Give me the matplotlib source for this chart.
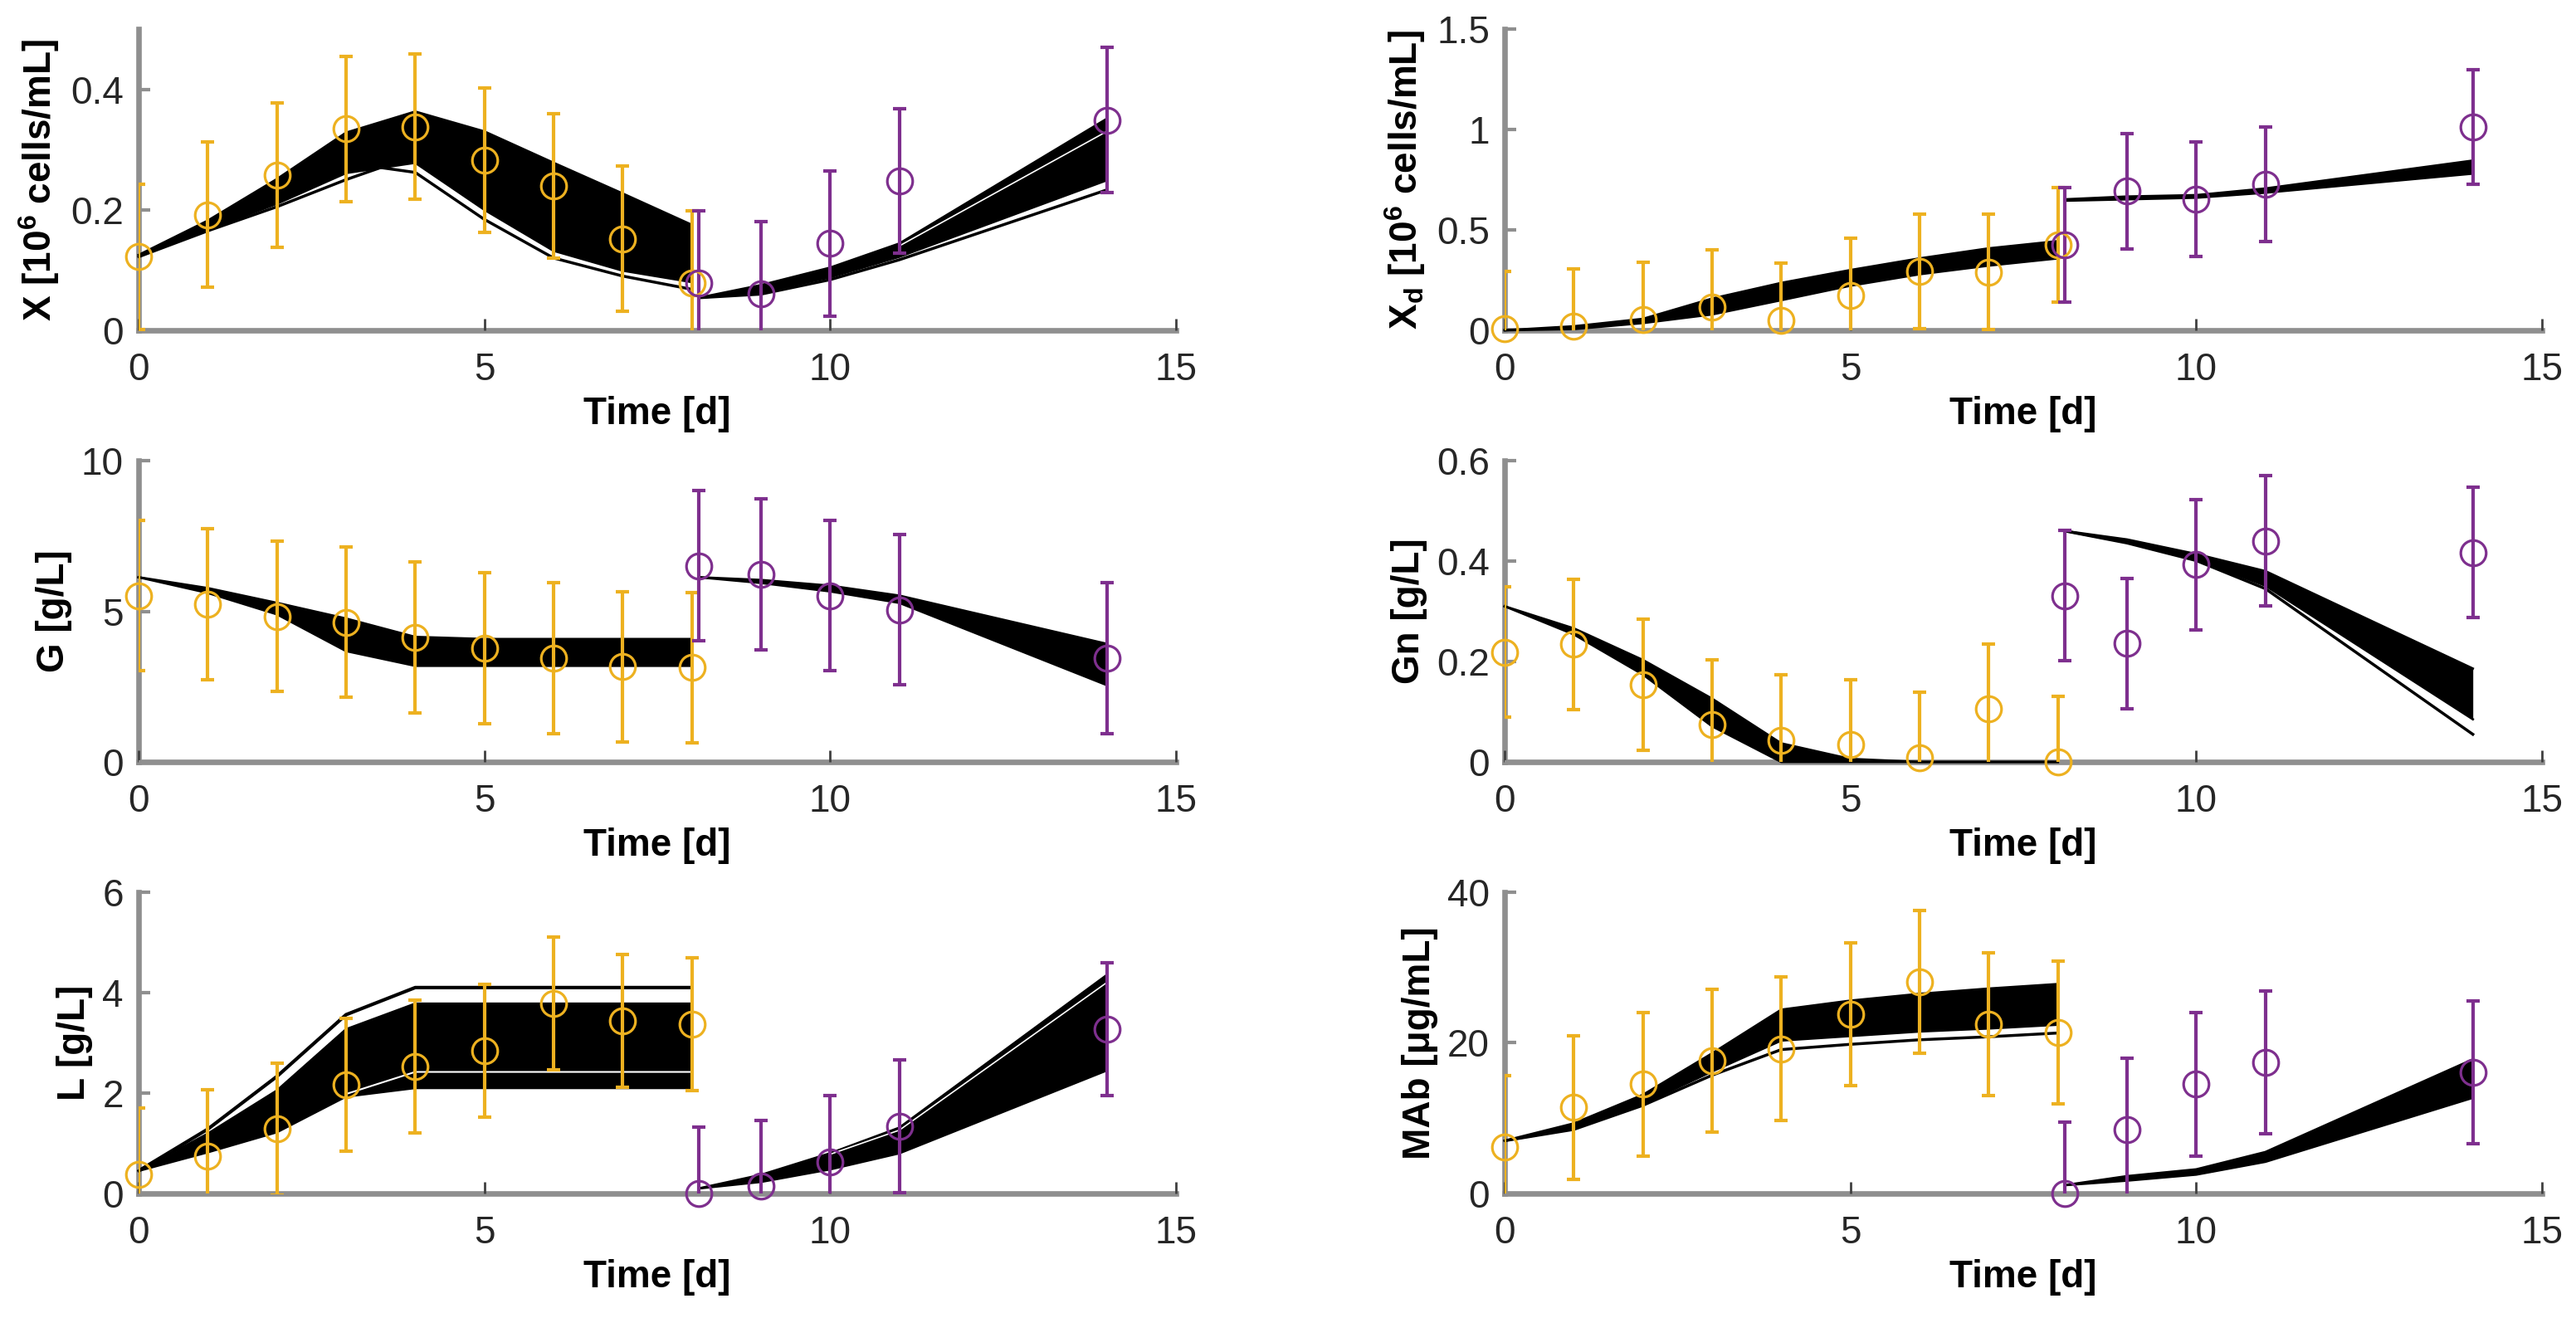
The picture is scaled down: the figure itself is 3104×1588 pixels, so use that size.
import matplotlib
matplotlib.use("Agg")
import matplotlib.pyplot as plt

plt.rcParams['font.family'] = ['Liberation Sans', 'DejaVu Sans']
plt.rcParams['mathtext.fontset'] = 'custom'
plt.rcParams['mathtext.rm'] = 'Liberation Sans'
plt.rcParams['mathtext.bf'] = 'Liberation Sans:bold'
plt.rcParams['mathtext.default'] = 'bf'

YELLOW = '#EDB120'
PURPLE = '#7E2F8E'
AXCOL = '#8f8f8f'
TXT = '#262626'
FS = 33

# measurement times
t_exp1 = [0, 1, 2, 3, 4, 5, 6, 7, 8]
t_exp2 = [8.1, 9, 10, 11, 14]

# ---- X [10^6 cells/mL]
x_mean1 = [0.122, 0.192, 0.257, 0.334, 0.338, 0.282, 0.24, 0.152, 0.078]
x_mean2 = [0.078, 0.061, 0.144, 0.248, 0.349]
x_err = 0.12
x_hi1 = [0.125, 0.182, 0.251, 0.328, 0.363, 0.33, 0.278, 0.227, 0.175]
x_lo1 = [0.122, 0.167, 0.21, 0.261, 0.278, 0.2, 0.132, 0.099, 0.08]
x_hi2 = [0.054, 0.075, 0.104, 0.144, 0.351]
x_lo2 = [0.054, 0.063, 0.088, 0.122, 0.249]
x_out_t1 = [0, 1, 2, 3, 3.5, 4, 5, 6, 7, 8]
x_out1 = [0.122, 0.165, 0.205, 0.25, 0.27, 0.262, 0.184, 0.12, 0.09, 0.068]
x_out2 = [0.054, 0.06, 0.084, 0.117, 0.233]

# ---- Xd [10^6 cells/mL]
xd_mean1 = [0.007, 0.02, 0.053, 0.115, 0.05, 0.172, 0.294, 0.291, 0.425]
xd_mean2 = [0.425, 0.692, 0.652, 0.726, 1.013]
xd_err = 0.286
xd_hi1 = [0.0, 0.02, 0.057, 0.158, 0.236, 0.3, 0.358, 0.408, 0.444]
xd_lo1 = [0.0, 0.006, 0.036, 0.079, 0.15, 0.222, 0.279, 0.322, 0.358]
xd_hi2 = [0.652, 0.666, 0.673, 0.706, 0.845]
xd_lo2 = [0.645, 0.652, 0.66, 0.685, 0.78]

# ---- G [g/L]
g_mean1 = [5.52, 5.24, 4.83, 4.64, 4.13, 3.77, 3.44, 3.16, 3.13]
g_mean2 = [6.51, 6.23, 5.52, 5.05, 3.44]
g_err = 2.5
g_hi1 = [6.13, 5.77, 5.28, 4.76, 4.15, 4.08, 4.08, 4.08, 4.08]
g_lo1 = [6.13, 5.61, 4.9, 3.68, 3.19, 3.19, 3.19, 3.19, 3.19]
g_hi2 = [6.13, 6.04, 5.85, 5.52, 3.92]
g_lo2 = [6.13, 5.94, 5.66, 5.28, 2.55]

# ---- Gn [g/L]
gn_mean1 = [0.219, 0.234, 0.154, 0.074, 0.043, 0.034, 0.009, 0.105, 0.0]
gn_mean2 = [0.331, 0.236, 0.393, 0.44, 0.417]
gn_err = 0.13
gn_hi1 = [0.31, 0.266, 0.203, 0.126, 0.037, 0.006, 0.0, 0.0, 0.0]
gn_lo1 = [0.31, 0.254, 0.174, 0.071, 0.0, 0.0, 0.0, 0.0, 0.0]
gn_hi2 = [0.46, 0.443, 0.414, 0.38, 0.186]
gn_lo2 = [0.46, 0.437, 0.403, 0.351, 0.085]
gn_out2 = [0.46, 0.436, 0.401, 0.345, 0.055]

# ---- L [g/L]
l_mean1 = [0.38, 0.74, 1.28, 2.17, 2.53, 2.84, 3.78, 3.44, 3.37]
l_mean2 = [0.0, 0.14, 0.63, 1.34, 3.27]
l_err = 1.32
l_hi1 = [0.45, 1.19, 2.05, 3.27, 3.78, 3.78, 3.78, 3.78, 3.78]
l_lo1 = [0.45, 0.82, 1.22, 1.93, 2.1, 2.1, 2.1, 2.1, 2.1]
l_out_t1 = [0, 1, 2, 3, 4, 8]
l_out1 = [0.45, 1.28, 2.33, 3.56, 4.1, 4.1]
l_gap_t1 = [3, 4, 8]
l_gap1 = [1.98, 2.42, 2.42]
l_hi2 = [0.1, 0.37, 0.8, 1.31, 4.35]
l_lo2 = [0.1, 0.23, 0.48, 0.8, 2.45]
l_gap_t2 = [10, 11, 14]
l_gap2 = [0.78, 1.26, 4.2]

# ---- MAb [ug/mL]
m_mean1 = [6.14, 11.4, 14.5, 17.6, 19.2, 23.8, 28.1, 22.5, 21.4]
m_mean2 = [0.0, 8.5, 14.5, 17.4, 16.1]
m_err = 9.5
m_hi1 = [7.0, 9.3, 13.1, 18.6, 24.4, 25.6, 26.5, 27.2, 27.8]
m_lo1 = [7.0, 8.6, 11.9, 16.2, 20.3, 20.9, 21.5, 21.9, 22.4]
m_out1 = [7.0, 8.5, 11.7, 15.7, 19.1, 19.8, 20.4, 20.8, 21.3]
m_hi2 = [1.1, 2.3, 3.2, 5.5, 17.8]
m_lo2 = [1.1, 1.7, 2.5, 4.2, 12.7]

fig = plt.figure(figsize=(31.04, 15.88), dpi=100)

col_left = [0.0538, 0.5841]
row_bottom = [0.7494, 0.4219, 0.0945]
w, h = 0.4027, 0.2286


def style_axes(ax, ylim, yticks, ylabel):
    ax.set_xlim(0, 15)
    ax.set_ylim(*ylim)
    ax.set_xticks([0, 5, 10, 15])
    ax.set_yticks(yticks)
    ax.set_yticklabels([f"{v:g}" for v in yticks])
    for s in ['top', 'right']:
        ax.spines[s].set_visible(False)
    for s in ['left', 'bottom']:
        ax.spines[s].set_color(AXCOL)
        ax.spines[s].set_linewidth(4.8)
        ax.spines[s].set_zorder(1)
    ax.tick_params(axis='x', direction='in', length=10, width=2, color='#404040',
                   labelsize=FS, labelcolor=TXT, pad=19)
    ax.tick_params(axis='y', direction='in', length=10, width=3, color=AXCOL,
                   labelsize=FS, labelcolor=TXT, pad=13)
    ax.set_xlabel('Time [d]', fontsize=FS, fontweight='bold', labelpad=6)
    ax.set_ylabel(ylabel, fontsize=FS, fontweight='bold', labelpad=8)


def band(ax, t, lo, hi):
    ax.fill_between(t, lo, hi, color='k', lw=0, zorder=3, clip_on=False)
    ax.plot(t, lo, color='k', lw=2, zorder=3, clip_on=False)
    ax.plot(t, hi, color='k', lw=2, zorder=3, clip_on=False)


def data(ax, t, y, err, col):
    ax.errorbar(t, y, yerr=err, fmt='none', ecolor=col, elinewidth=3,
                capsize=6, capthick=3, zorder=4)
    ax.plot(t, y, 'o', mfc='none', mec=col, ms=22, mew=2.3, zorder=5, clip_on=False)


# X
ax = fig.add_axes([col_left[0], row_bottom[0], w, h])
band(ax, t_exp1, x_lo1, x_hi1)
ax.plot(x_out_t1, x_out1, color='k', lw=2.5, zorder=3)
band(ax, t_exp2, x_lo2, x_hi2)
ax.plot(t_exp2, x_out2, color='k', lw=2.5, zorder=3)
ax.plot([11, 14], [0.14, 0.33], color='w', lw=1.2, zorder=3.1)
data(ax, t_exp1, x_mean1, x_err, YELLOW)
data(ax, t_exp2, x_mean2, x_err, PURPLE)
style_axes(ax, (0, 0.5), [0, 0.2, 0.4], r'X [10$^6$ cells/mL]')

# Xd
ax = fig.add_axes([col_left[1], row_bottom[0], w, h])
band(ax, t_exp1, xd_lo1, xd_hi1)
band(ax, t_exp2, xd_lo2, xd_hi2)
data(ax, t_exp1, xd_mean1, xd_err, YELLOW)
data(ax, t_exp2, xd_mean2, xd_err, PURPLE)
style_axes(ax, (0, 1.5), [0, 0.5, 1, 1.5], r'X$_d$ [10$^6$ cells/mL]')

# G
ax = fig.add_axes([col_left[0], row_bottom[1], w, h])
band(ax, t_exp1, g_lo1, g_hi1)
band(ax, t_exp2, g_lo2, g_hi2)
data(ax, t_exp1, g_mean1, g_err, YELLOW)
data(ax, t_exp2, g_mean2, g_err, PURPLE)
style_axes(ax, (0, 10), [0, 5, 10], 'G [g/L]')

# Gn
ax = fig.add_axes([col_left[1], row_bottom[1], w, h])
band(ax, t_exp1, gn_lo1, gn_hi1)
band(ax, t_exp2, gn_lo2, gn_hi2)
ax.plot(t_exp2, gn_out2, color='k', lw=2.5, zorder=3)
data(ax, t_exp1, gn_mean1, gn_err, YELLOW)
data(ax, t_exp2, gn_mean2, gn_err, PURPLE)
style_axes(ax, (0, 0.6), [0, 0.2, 0.4, 0.6], 'Gn [g/L]')

# L
ax = fig.add_axes([col_left[0], row_bottom[2], w, h])
band(ax, t_exp1, l_lo1, l_hi1)
ax.plot(l_out_t1, l_out1, color='k', lw=3, zorder=3)
ax.plot(l_gap_t1, l_gap1, color='w', lw=1.5, zorder=3.1)
band(ax, t_exp2, l_lo2, l_hi2)
ax.plot(l_gap_t2, l_gap2, color='w', lw=1.2, zorder=3.1)
data(ax, t_exp1, l_mean1, l_err, YELLOW)
data(ax, t_exp2, l_mean2, l_err, PURPLE)
style_axes(ax, (0, 6), [0, 2, 4, 6], 'L [g/L]')

# MAb
ax = fig.add_axes([col_left[1], row_bottom[2], w, h])
band(ax, t_exp1, m_lo1, m_hi1)
ax.plot(t_exp1, m_out1, color='k', lw=2.5, zorder=3)
band(ax, t_exp2, m_lo2, m_hi2)
data(ax, t_exp1, m_mean1, m_err, YELLOW)
data(ax, t_exp2, m_mean2, m_err, PURPLE)
style_axes(ax, (0, 40), [0, 20, 40], 'MAb [\u03bcg/mL]')

fig.savefig('out.png', dpi=100)
